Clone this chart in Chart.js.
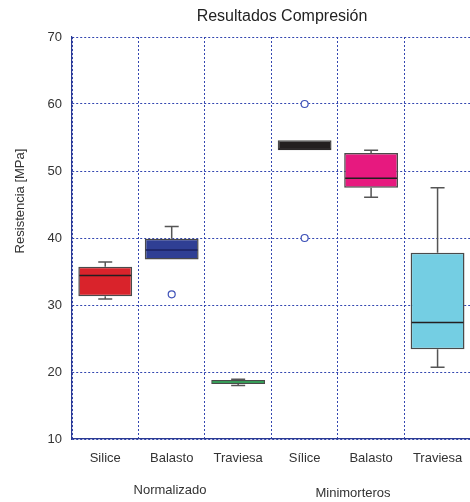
<!DOCTYPE html>
<html>
<head>
<meta charset="utf-8">
<script src="https://cdn.jsdelivr.net/npm/chart.js@4/dist/chart.umd.min.js"></script>
<style>
  html, body { margin: 0; padding: 0; overflow: hidden; background: #ffffff; }
  canvas { display: block; }
</style>
</head>
<body>
<canvas id="chart" width="476" height="502"></canvas>
<script>
// Compression strength (MPa) per aggregate, two test series
const categories  = ['Silice', 'Balasto', 'Traviesa', 'Sílice', 'Balasto', 'Traviesa'];
const groupLabels = ['Normalizado', 'Minimorteros'];

// Box statistics per category
const q1          = [31.3, 36.8, 18.2, 53.1, 47.5, 23.4];
const q3          = [35.7, 39.9, 18.8, 54.6, 52.7, 37.8];
const median      = [34.4, 38.2, 18.5, 53.3, 48.9, 27.4];
const whiskerLow  = [30.9, 36.8, 18.0, 53.1, 46.1, 20.7];
const whiskerHigh = [36.4, 41.7, 18.9, 54.6, 53.1, 47.5];

// Outlying measurements: category index and value
const outlierCategory = [1, 3, 3];
const outlierValue    = [31.6, 60, 40];

const yTicks = [10, 20, 30, 40, 50, 60, 70];

const boxColors    = ['#d9232b', '#2f3f94', '#1e7d3f', '#231f20', '#e7197f', '#74cee3'];
const medianColors = ['#231f20', '#1b2260', '#2aa050', '#231f20', '#231f20', '#231f20'];

const FONT = '"Liberation Sans", Arial, Helvetica, sans-serif';
const TEXT = '#333333';
const GRID = '#3346b0';
const AXIS = '#2b3a92';

// One point-only series per outlier, aligned to the category labels
const outlierSeries = outlierValue.map((v, k) =>
  categories.map((_, i) => (i === outlierCategory[k] ? v : null))
);

const boxPlotExtras = {
  id: 'boxPlotExtras',
  afterDatasetsDraw(chart) {
    const { ctx, scales: { y } } = chart;
    const meta = chart.getDatasetMeta(0);
    ctx.save();
    meta.data.forEach((bar, i) => {
      const cx = bar.x;
      const half = bar.width / 2;
      const cap = 7;
      ctx.lineCap = 'butt';
      ctx.strokeStyle = '#555555';
      ctx.lineWidth = 1.5;
      const yQ1 = y.getPixelForValue(q1[i]);
      const yQ3 = y.getPixelForValue(q3[i]);
      if (whiskerHigh[i] > q3[i]) {
        const yh = y.getPixelForValue(whiskerHigh[i]);
        ctx.beginPath();
        ctx.moveTo(cx, yQ3); ctx.lineTo(cx, yh);
        ctx.moveTo(cx - cap, yh); ctx.lineTo(cx + cap, yh);
        ctx.stroke();
      }
      if (whiskerLow[i] < q1[i]) {
        const yl = y.getPixelForValue(whiskerLow[i]);
        ctx.beginPath();
        ctx.moveTo(cx, yQ1); ctx.lineTo(cx, yl);
        ctx.moveTo(cx - cap, yl); ctx.lineTo(cx + cap, yl);
        ctx.stroke();
      }
      const ym = y.getPixelForValue(median[i]);
      ctx.strokeStyle = medianColors[i];
      ctx.lineWidth = 1.5;
      ctx.beginPath();
      ctx.moveTo(cx - half + 1, ym); ctx.lineTo(cx + half - 1, ym);
      ctx.stroke();
    });
    ctx.restore();
  },
  afterDraw(chart) {
    const { ctx } = chart;
    ctx.save();
    ctx.fillStyle = '#222222';
    ctx.textAlign = 'center';
    ctx.textBaseline = 'middle';
    ctx.font = '16px ' + FONT;
    ctx.fillText('Resultados Compresión', 282, 17);

    ctx.fillStyle = TEXT;
    ctx.font = '13px ' + FONT;
    ctx.fillText(groupLabels[0], 170, 490);
    ctx.fillText(groupLabels[1], 353, 493);

    ctx.translate(20, 201);
    ctx.rotate(-Math.PI / 2);
    ctx.fillText('Resistencia [MPa]', 0, 0);
    ctx.restore();
  }
};

const outlierDatasets = outlierSeries.map(series => ({
  type: 'line',
  data: series,
  showLine: false,
  spanGaps: false,
  pointStyle: 'circle',
  pointRadius: 3.5,
  pointBorderWidth: 1.2,
  pointBorderColor: '#3f52b8',
  pointBackgroundColor: '#ffffff',
  order: -1
}));

new Chart(document.getElementById('chart'), {
  type: 'bar',
  data: {
    labels: categories,
    datasets: [
      {
        type: 'bar',
        data: categories.map((_, i) => [q1[i], q3[i]]),
        backgroundColor: boxColors,
        borderColor: '#4a4a4a',
        borderWidth: 1.5,
        borderSkipped: false,
        barPercentage: 0.81,
        categoryPercentage: 1.0
      },
      ...outlierDatasets
    ]
  },
  options: {
    responsive: false,
    animation: false,
    events: [],
    layout: { padding: { top: 37, left: 0, right: 1, bottom: 0 } },
    plugins: {
      legend: { display: false },
      title: { display: false },
      tooltip: { enabled: false }
    },
    scales: {
      x: {
        type: 'category',
        offset: true,
        grid: {
          offset: true,
          drawTicks: false,
          color: GRID,
          lineWidth: 1
        },
        border: { display: true, color: AXIS, width: 1.2, dash: [2, 2] },
        ticks: {
          padding: 12,
          color: TEXT,
          font: { family: FONT, size: 13 }
        },
        afterFit(scale) { scale.height = 63; }
      },
      y: {
        min: 10,
        max: 70,
        afterBuildTicks(scale) { scale.ticks = yTicks.map(v => ({ value: v })); },
        grid: {
          drawTicks: false,
          color: GRID,
          lineWidth: 1
        },
        border: { display: true, color: AXIS, width: 1.2, dash: [2, 2] },
        ticks: {
          padding: 10,
          color: TEXT,
          font: { family: FONT, size: 13 }
        },
        afterFit(scale) { scale.width = 72; }
      }
    }
  },
  plugins: [boxPlotExtras]
});
</script>
</body>
</html>
